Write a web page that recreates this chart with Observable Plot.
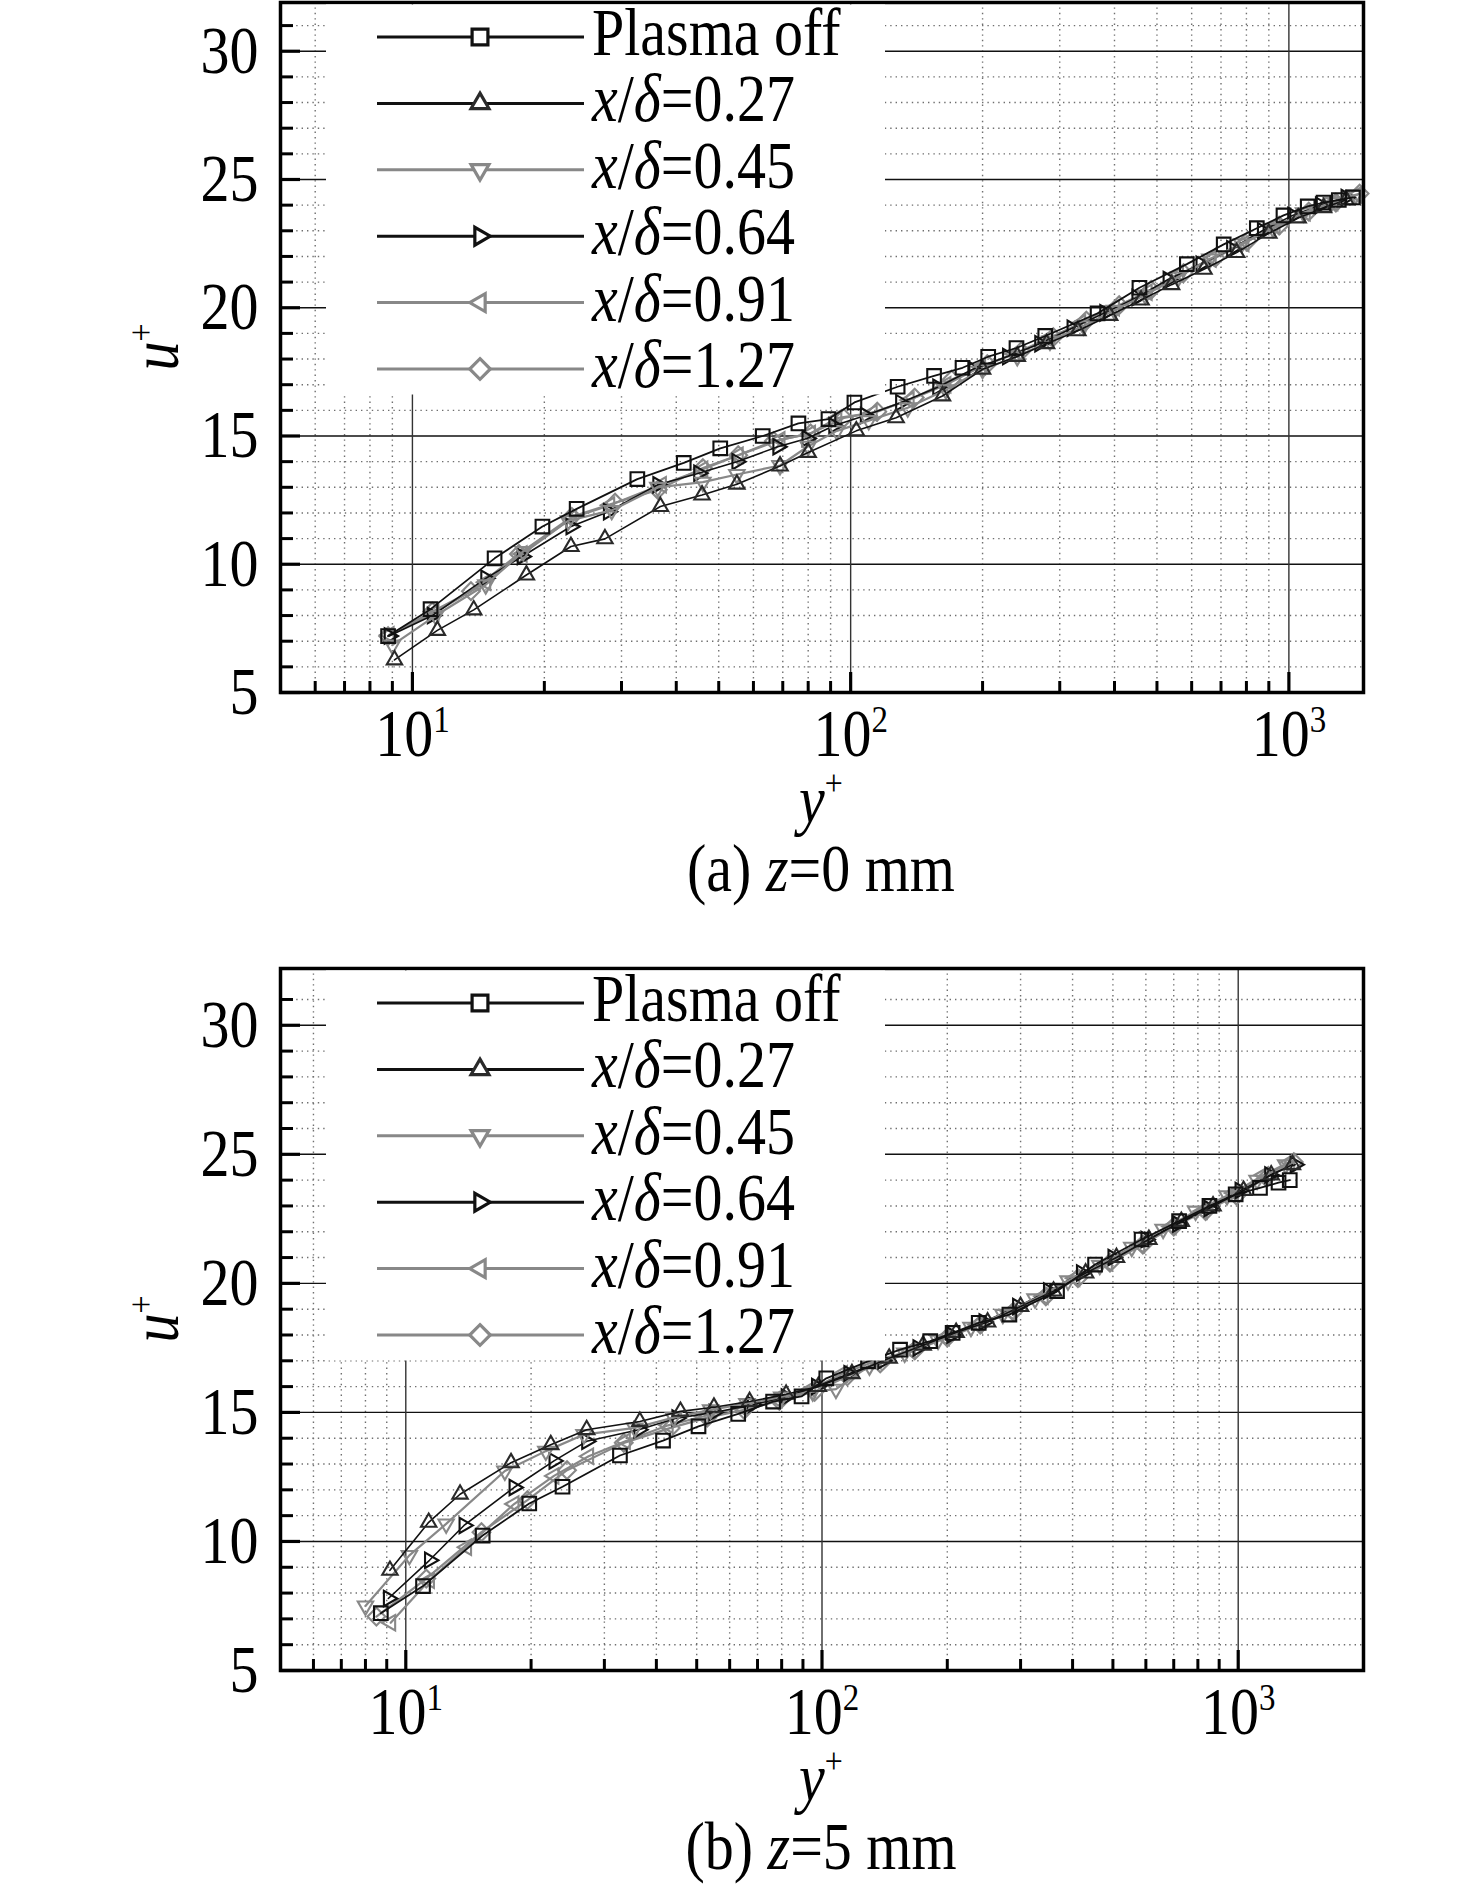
<!DOCTYPE html>
<html>
<head>
<meta charset="utf-8">
<script src="https://cdn.jsdelivr.net/npm/d3@7"></script>
<script src="https://cdn.jsdelivr.net/npm/@observablehq/plot@0.6"></script>
<style>
  body { margin: 0; background: #fff; }
  #page { position: relative; width: 1476px; height: 1899px; overflow: hidden; }
  #page svg { position: absolute; left: 0; }
</style>
</head>
<body>
<div id="page"></div>
<script>
// ---- panel (a) z = 0 mm ----
const offA_y = [8.8, 11.0, 15.4, 19.8, 23.7, 32.6, 41.6, 50.4, 63, 76, 89, 102, 128, 155, 180, 206, 239, 278, 366, 456, 585, 710, 845, 972, 1104, 1200, 1300, 1400];
const offA_u = [7.2, 8.25, 10.23, 11.47, 12.16, 13.32, 13.95, 14.52, 15.0, 15.49, 15.66, 16.31, 16.92, 17.34, 17.66, 18.09, 18.43, 18.9, 19.78, 20.78, 21.7, 22.47, 23.1, 23.6, 23.95, 24.1, 24.2, 24.3];
const a027_y = [9.1, 11.4, 13.8, 18.2, 23.0, 27.5, 36.8, 45.8, 55, 69, 80, 103, 127, 162, 200, 240, 280, 330, 390, 460, 540, 640, 760, 900, 1050, 1200, 1350];
const a027_u = [6.27, 7.42, 8.22, 9.58, 10.69, 10.99, 12.25, 12.7, 13.12, 13.83, 14.36, 15.2, 15.71, 16.56, 17.6, 18.1, 18.6, 19.1, 19.7, 20.3, 20.9, 21.5, 22.15, 22.9, 23.5, 23.9, 24.2];
const a045_y = [9.0, 11.3, 14.7, 17.9, 22.7, 28.5, 36.3, 46, 55, 69, 80, 93, 110, 135, 165, 200, 240, 285, 340, 400, 470, 560, 660, 780, 920, 1080, 1250, 1420];
const a045_u = [6.85, 8.0, 9.2, 10.5, 11.7, 12.1, 13.0, 13.2, 13.5, 13.85, 14.6, 15.2, 15.6, 16.1, 16.8, 17.6, 18.1, 18.7, 19.3, 19.9, 20.5, 21.2, 21.9, 22.5, 23.1, 23.7, 24.1, 24.4];
const a064_y = [8.85, 11.1, 14.7, 17.8, 23, 28, 36.3, 45, 55, 68.2, 79.5, 91.5, 108, 130, 158, 190, 228, 270, 320, 380, 450, 530, 630, 740, 870, 1020, 1180, 1350];
const a064_u = [7.2, 8.0, 9.45, 10.3, 11.47, 12.05, 13.1, 13.55, 14.0, 14.58, 14.9, 15.4, 15.8, 16.3, 16.9, 17.6, 18.1, 18.6, 19.2, 19.8, 20.4, 21.1, 21.7, 22.3, 23.0, 23.6, 24.0, 24.3];
const a091_y = [8.85, 11.2, 14.7, 17.8, 23.1, 28.2, 37, 46, 55.4, 69, 81, 93, 112, 136, 165, 198, 236, 282, 335, 400, 475, 560, 665, 790, 930, 1090, 1260, 1430];
const a091_u = [7.25, 8.1, 9.3, 10.4, 11.8, 12.3, 13.1, 13.7, 14.25, 14.85, 15.1, 15.7, 15.9, 16.4, 17.0, 17.7, 18.2, 18.8, 19.4, 20.0, 20.6, 21.3, 21.9, 22.5, 23.2, 23.7, 24.1, 24.4];
const a127_y = [8.8, 11.1, 13.6, 17.5, 23.1, 29, 36.3, 46, 55.4, 66.8, 81, 96.5, 115, 140, 170, 205, 245, 290, 345, 410, 485, 575, 680, 805, 950, 1110, 1280, 1450];
const a127_u = [7.2, 8.15, 8.95, 10.4, 11.85, 12.4, 12.9, 13.75, 14.25, 14.8, 15.1, 15.7, 15.95, 16.5, 17.2, 17.8, 18.3, 18.85, 19.5, 20.1, 20.7, 21.35, 21.95, 22.6, 23.2, 23.75, 24.1, 24.45];

// ---- panel (b) z = 5 mm ----
const offB_y = [8.71, 11.0, 15.3, 19.8, 23.8, 32.7, 41.5, 50.5, 62.9, 76.3, 89.3, 102.4, 129, 154, 182, 206, 238, 282, 367, 453, 586, 721, 853, 986, 1128, 1250, 1330];
const offB_u = [7.22, 8.27, 10.23, 11.47, 12.12, 13.33, 13.91, 14.46, 14.94, 15.42, 15.62, 16.32, 16.98, 17.43, 17.76, 18.08, 18.47, 18.79, 19.7, 20.73, 21.7, 22.41, 23.0, 23.45, 23.7, 23.9, 24.0];
const b027_y = [9.16, 11.35, 13.5, 17.9, 22.3, 27.2, 36.5, 45.7, 55, 67, 82, 98, 118, 145, 175, 210, 250, 300, 360, 430, 510, 610, 730, 870, 1030, 1200, 1350];
const b027_u = [8.88, 10.74, 11.83, 13.05, 13.75, 14.33, 14.65, 15.04, 15.2, 15.42, 15.7, 16.0, 16.5, 17.1, 17.6, 18.1, 18.5, 19.1, 19.7, 20.4, 21.0, 21.7, 22.4, 23.0, 23.6, 24.2, 24.6];
const b045_y = [8.0, 10.2, 12.5, 17.3, 21.7, 26.8, 35.5, 44, 54, 66, 80, 95, 108, 130, 158, 190, 228, 272, 325, 390, 465, 555, 660, 790, 940, 1110, 1300];
const b045_u = [7.5, 9.46, 10.68, 12.73, 13.5, 14.14, 14.4, 14.8, 15.1, 15.35, 15.6, 15.8, 15.9, 16.8, 17.3, 17.8, 18.3, 18.8, 19.4, 20.1, 20.7, 21.4, 22.1, 22.8, 23.4, 24.0, 24.6];
const b064_y = [9.08, 11.4, 13.8, 18.2, 22.7, 27.2, 36.3, 44.8, 55, 68, 82, 97, 116, 140, 170, 205, 245, 295, 350, 420, 500, 600, 715, 850, 1010, 1190, 1370];
const b064_u = [7.79, 9.27, 10.62, 12.09, 13.12, 13.88, 14.33, 14.78, 15.0, 15.3, 15.6, 16.0, 16.5, 17.0, 17.5, 18.0, 18.5, 19.1, 19.7, 20.4, 21.0, 21.7, 22.3, 22.9, 23.6, 24.2, 24.6];
const b091_y = [9.2, 11.4, 14.0, 18.2, 22.7, 27.5, 33.7, 42.7, 52, 64, 78, 94, 112, 135, 163, 197, 236, 283, 340, 405, 485, 580, 690, 820, 975, 1150, 1330];
const b091_u = [6.85, 8.5, 9.78, 11.45, 12.54, 13.3, 13.88, 14.5, 14.85, 15.2, 15.5, 15.9, 16.5, 17.0, 17.4, 17.9, 18.4, 18.9, 19.5, 20.2, 20.8, 21.5, 22.2, 22.8, 23.5, 24.2, 24.7];
const b127_y = [8.5, 11.2, 15.2, 19.6, 24.4, 33.4, 43.3, 53, 65, 79, 96, 115, 138, 167, 200, 240, 288, 345, 412, 492, 590, 700, 835, 990, 1170, 1360];
const b127_u = [7.09, 8.56, 10.36, 11.6, 12.76, 13.82, 14.4, 14.8, 15.1, 15.45, 15.8, 16.4, 16.9, 17.4, 17.9, 18.4, 18.9, 19.5, 20.2, 20.8, 21.5, 22.2, 22.8, 23.4, 24.1, 24.7];

// legend names and axis ticks
const names = ["Plasma off", "0.27", "0.45", "0.64", "0.91", "1.27"];
const yMajor = [5, 10, 15, 20, 25, 30];
const yMinor = [6, 7, 8, 9, 11, 12, 13, 14, 16, 17, 18, 19, 21, 22, 23, 24, 26, 27, 28, 29, 31];
const xMajor = [10, 100, 1000];
const xMinor = [6, 7, 8, 9, 20, 30, 40, 50, 60, 70, 80, 90, 200, 300, 400, 500, 600, 700, 800, 900];

// marker shapes
function triangle(angle) {
  return {
    draw(ctx, size) {
      const R = Math.sqrt(size / Math.PI) * 1.2;
      for (let k = 0; k < 3; ++k) {
        const a = angle + (k * 2 * Math.PI) / 3;
        if (k) ctx.lineTo(R * Math.cos(a), R * Math.sin(a));
        else ctx.moveTo(R * Math.cos(a), R * Math.sin(a));
      }
      ctx.closePath();
    }
  };
}
const square = {draw(ctx, size) { const h = Math.sqrt(size / Math.PI) * 0.92; ctx.rect(-h, -h, 2 * h, 2 * h); }};
const diamond = {draw(ctx, size) {
  const h = Math.sqrt(size / Math.PI) * 1.2;
  ctx.moveTo(0, -h); ctx.lineTo(h, 0); ctx.lineTo(0, h); ctx.lineTo(-h, 0); ctx.closePath();
}};

const BLACK = "#111", GREY = "#888";
const styles = [
  {symbol: square, line: BLACK, mark: "#111", w: 1.8},
  {symbol: triangle(-Math.PI / 2), line: BLACK, mark: "#2a2a2a", w: 1.6},
  {symbol: triangle(Math.PI / 2), line: GREY, mark: GREY, w: 2.2},
  {symbol: triangle(0), line: BLACK, mark: "#111", w: 1.6},
  {symbol: triangle(Math.PI), line: GREY, mark: GREY, w: 2.2},
  {symbol: diamond, line: GREY, mark: GREY, w: 2.2}
];

const panels = [
  {top: 0, frameH: 690, xDomain: [5, 1480], yDomain: [5, 31.9], letter: "(a) ", z: "=0 mm",
   series: [[offA_y, offA_u], [a027_y, a027_u], [a045_y, a045_u], [a064_y, a064_u], [a091_y, a091_u], [a127_y, a127_u]]},
  {top: 966, frameH: 702, xDomain: [5, 2000], yDomain: [5, 32.2], letter: "(b) ", z: "=5 mm",
   series: [[offB_y, offB_u], [b027_y, b027_u], [b045_y, b045_u], [b064_y, b064_u], [b091_y, b091_u], [b127_y, b127_u]]}
];

const FONT = "'Liberation Serif', 'Times New Roman', serif";
const STRETCH = "scale(1,1.15)"; // the figure's lettering is tall and narrow
const page = document.getElementById("page");

for (const p of panels) {
  const mt = 2, height = p.top === 0 ? 922 : 933;
  const B = mt + p.frameH;
  const dotted = {stroke: "#6f6f6f", strokeOpacity: 1, strokeWidth: 1.4, strokeDasharray: "1.4 4"};
  const marks = [
    Plot.gridY(yMinor, dotted),
    Plot.gridX(xMinor, dotted),
    Plot.gridY(yMajor.slice(1), {stroke: "#111", strokeOpacity: 1, strokeWidth: 1.4}),
    Plot.gridX(xMajor, {stroke: "#333", strokeOpacity: 1, strokeWidth: 1.4})
  ];
  // draw Plasma off last so it sits on top
  for (let i = p.series.length - 1; i >= 0; --i) {
    const [ys, us] = p.series[i];
    const rows = ys.map((v, j) => ({yp: v, up: us[j]}));
    const s = styles[i];
    marks.push(Plot.line(rows, {x: "yp", y: "up", stroke: s.line, strokeWidth: s.w}));
    marks.push(Plot.dot(rows, {x: "yp", y: "up", symbol: s.symbol, r: 7.4, stroke: s.mark, strokeWidth: 2.1, fill: "none"}));
  }
  marks.push(
    Plot.axisY(yMinor, {tickSize: -13, strokeWidth: 3, fill: "none", label: null}),
    Plot.axisY(yMajor, {tickSize: -20, strokeWidth: 3.2, fill: "none", label: null}),
    Plot.axisY(yMajor, {tickSize: 0, tickPadding: 22, tickFormat: (d) => String(d), label: null}),
    Plot.axisX(xMinor, {tickSize: -11, strokeWidth: 3, fill: "none", label: null}),
    Plot.axisX(xMajor, {tickSize: -20, strokeWidth: 3.2, fill: "none", label: null}),
    Plot.axisX(xMajor, {tickSize: 0, tickPadding: 16, tickFormat: (d) => String(Math.round(Math.log10(d))), label: null}),
    Plot.frame({stroke: "#000", strokeWidth: 3.5})
  );

  const svg = Plot.plot({
    width: 1476,
    height,
    marginLeft: 280,
    marginRight: 113,
    marginTop: mt,
    marginBottom: height - B,
    x: {type: "log", domain: p.xDomain},
    y: {domain: p.yDomain},
    style: {fontFamily: FONT, fontSize: "58px", color: "#000", background: "#fff"},
    marks
  });
  svg.style.top = p.top + "px";
  page.appendChild(svg);

  // x tick labels as 10 with a raised exponent
  d3.select(svg).selectAll('g[aria-label="x-axis tick label"] text').each(function () {
    const e = this.textContent;
    const t = d3.select(this).text("");
    t.append("tspan").text("10");
    t.append("tspan").attr("font-size", 33).attr("dy", "-0.62em").text(e);
  });

  // stretch the tick labels the same way as the original lettering
  d3.select(svg).selectAll("text").each(function () {
    const t = this.getAttribute("transform");
    if (t) this.setAttribute("transform", `${t} ${STRETCH}`);
  });

  const g = d3.select(svg).append("g")
    .attr("font-family", FONT).attr("font-size", 58).attr("fill", "#000").attr("text-anchor", "start");

  // legend box (covers the grid in the upper left corner)
  const lg = g.append("g");
  lg.append("rect").attr("x", 326).attr("y", 4.5).attr("width", 559).attr("height", 390).attr("fill", "#fff");
  names.forEach((name, i) => {
    const y = mt + 35 + i * 66.4, s = styles[i];
    lg.append("line").attr("x1", 377).attr("x2", 584).attr("y1", y).attr("y2", y)
      .attr("stroke", s.line).attr("stroke-width", 3);
    lg.append("path").attr("transform", `translate(480,${y})`)
      .attr("d", d3.symbol().type(s.symbol).size(Math.PI * 8.6 * 8.6)())
      .attr("fill", "#fff").attr("stroke", s.mark).attr("stroke-width", 3.2);
    const t = lg.append("text").attr("transform", `translate(592,${y + 18}) ${STRETCH}`);
    if (i === 0) t.text(name);
    else {
      t.append("tspan").attr("font-style", "italic").text("x");
      t.append("tspan").text("/");
      t.append("tspan").attr("font-style", "italic").text("δ");
      t.append("tspan").text("=" + name);
    }
  });

  // axis titles and caption
  const ul = g.append("text").attr("text-anchor", "middle")
    .attr("transform", `translate(178,${mt + p.frameH / 2}) rotate(-90) ${STRETCH}`);
  ul.append("tspan").attr("font-style", "italic").text("u");
  ul.append("tspan").attr("font-size", 32).attr("dy", -22).text("+");

  const yl = g.append("text").attr("text-anchor", "middle").attr("transform", `translate(821,${B + 131}) ${STRETCH}`);
  yl.append("tspan").attr("font-style", "italic").text("y");
  yl.append("tspan").attr("font-size", 32).attr("dy", -24).text("+");

  const cap = g.append("text").attr("text-anchor", "middle").attr("transform", `translate(821,${B + 199}) ${STRETCH}`);
  cap.append("tspan").text(p.letter);
  cap.append("tspan").attr("font-style", "italic").text("z");
  cap.append("tspan").text(p.z);
}
</script>
</body>
</html>
